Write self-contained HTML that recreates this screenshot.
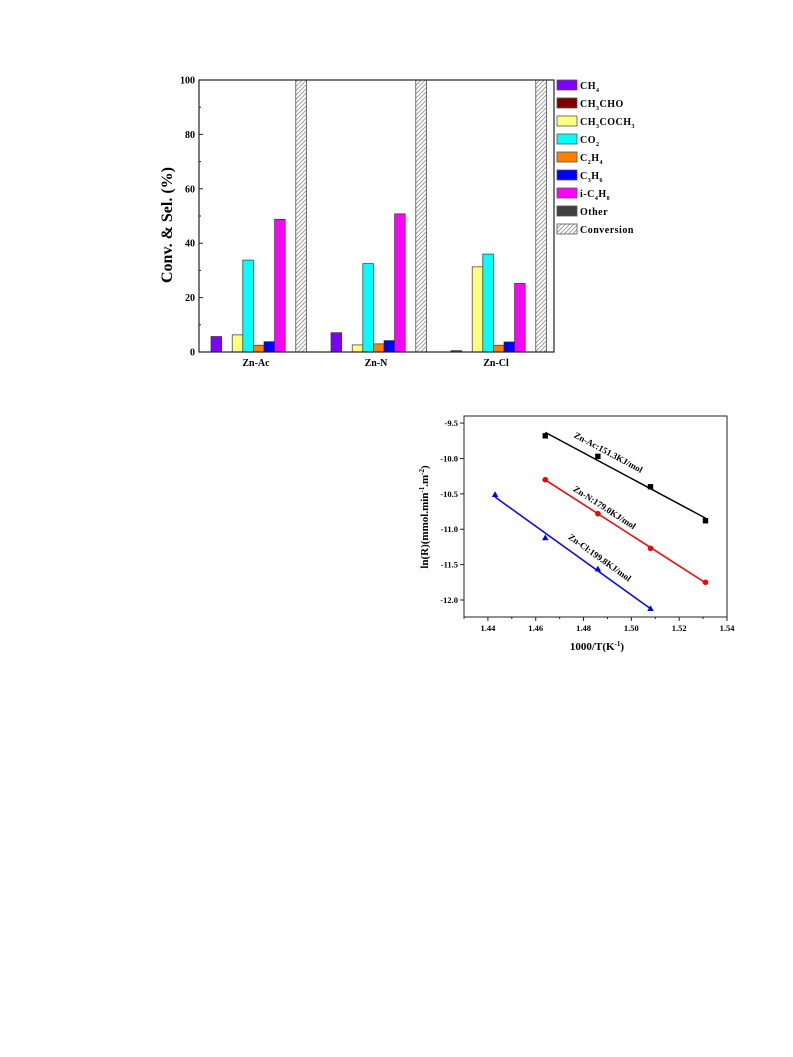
<!DOCTYPE html>
<html><head><meta charset="utf-8"><style>
body{margin:0;background:#fff;width:793px;height:1057px;overflow:hidden}
svg{position:absolute;left:0;top:0;font-family:"Liberation Serif",serif;font-weight:bold}
</style></head><body>
<svg width="793" height="1057">
<defs><pattern id="hatch" width="3" height="3" patternUnits="userSpaceOnUse" patternTransform="rotate(45)"><rect width="3" height="3" fill="#fff"/><line x1="0" y1="0" x2="0" y2="3" stroke="#777" stroke-width="1.4"/></pattern></defs>
<g id="bar"></g><g id="kin"></g>
</svg>
<script>
const NS="http://www.w3.org/2000/svg";
function mk(p,t,a,txt){const e=document.createElementNS(NS,t);for(const k in a)e.setAttribute(k,a[k]);if(txt!=null)e.textContent=txt;p.appendChild(e);return e;}
// ---- bar chart data
const categories=["Zn-Ac","Zn-N","Zn-Cl"];
const seriesNames=["CH4","CH3CHO","CH3COCH3","CO2","C2H4","C3H6","i-C4H8","Other","Conversion"];
const seriesColors=["#7f00ff","#800000","#ffff80","#00ffff","#ff8000","#0000ff","#ff00ff","#404040","url(#hatch)"];
const znAcValues=[5.7,0,6.3,33.8,2.5,3.8,48.8,0,100];
const znNValues=[7.1,0,2.6,32.5,3.0,4.2,50.8,0,100];
const znClValues=[0.5,0,31.3,36.0,2.5,3.7,25.2,0,100];
const barYTicks=[0,20,40,60,80,100];
const legendLabels=[["CH","4",""],["CH","3","CHO"],["CH","3","COCH","3"],["CO","2",""],["C","2","H","4"],["C","3","H","6"],["i-C","4","H","8"],["Other"],["Conversion"]];
const groups=[znAcValues,znNValues,znClValues];
const B=document.getElementById("bar");
const L=199,R=554,T=80,Bt=352;
const by=v=>Bt-(v/100)*(Bt-T);
const centers=[256,376,496];
groups.forEach((vals,g)=>{vals.forEach((v,i)=>{if(v<=0)return;const x=centers[g]-45+i*10.6;
const r=mk(B,"rect",{x:x,y:by(v),width:10.6,height:Bt-by(v),fill:seriesColors[i],stroke:"#333","stroke-width":0.7});

});});
const fr=mk(B,"rect",{x:L,y:T,width:R-L,height:Bt-T,fill:"none",stroke:"#222","stroke-width":1.2});


barYTicks.forEach(t=>{const y=by(t);mk(B,"line",{x1:L,x2:L+4,y1:y,y2:y,stroke:"#222"});
const tx=mk(B,"text",{x:L-4,y:y+3.5,"text-anchor":"end","font-size":10},t);


if(t<100)mk(B,"line",{x1:L,x2:L+2,y1:by(t+10),y2:by(t+10),stroke:"#222"});});
categories.forEach((c,g)=>{const tx=mk(B,"text",{x:centers[g],y:366,"text-anchor":"middle","font-size":10},c);

});
const yl=mk(B,"text",{x:0,y:0,transform:"translate(172,225) rotate(-90)","text-anchor":"middle","font-size":16},"Conv. &  Sel. (%)");


legendLabels.forEach((lab,i)=>{const y=80+i*18;const g=mk(B,"g",{});


mk(g,"rect",{x:557,y:y,width:20,height:10,fill:seriesColors[i],stroke:"#555","stroke-width":0.8});
const t=mk(g,"text",{x:580,y:y+9,"font-size":10,"letter-spacing":"0.5"});
lab.forEach((s,k)=>{const ts=mk(t,"tspan",k%2==1?{"font-size":6,dy:3}:(k>0?{dy:-3}:{}),s);});});
// ---- Arrhenius chart data
const acX=[1.464,1.486,1.508,1.531],acY=[-9.68,-9.97,-10.40,-10.88];
const nX=[1.464,1.486,1.508,1.531],nY=[-10.30,-10.78,-11.27,-11.75];
const clX=[1.443,1.464,1.486,1.508],clY=[-10.51,-11.12,-11.56,-12.12];
const xTicks=[1.44,1.46,1.48,1.50,1.52,1.54];
const yTicks=[-9.5,-10.0,-10.5,-11.0,-11.5,-12.0];
const seriesLabels=["Zn-Ac:151.3KJ/mol","Zn-N:179.0KJ/mol","Zn-Cl:199.8KJ/mol"];
const K=document.getElementById("kin");
const KL=464,KR=727,KT=416,KB=617;
const sx=v=>KL+(v-1.43)/(0.11)*(KR-KL);
const sy=v=>KB-(v+12.24)/(2.84)*(KB-KT);
const kf=mk(K,"rect",{x:KL,y:KT,width:KR-KL,height:KB-KT,fill:"none",stroke:"#222","stroke-width":1});


xTicks.forEach(t=>{const x=sx(t);mk(K,"line",{x1:x,x2:x,y1:KB,y2:KB+4,stroke:"#222"});mk(K,"line",{x1:x-23.9,x2:x-23.9,y1:KB,y2:KB+2,stroke:"#222"});
const tx=mk(K,"text",{x:x,y:KB+14,"text-anchor":"middle","font-size":8.5},t.toFixed(2));

});
yTicks.forEach(t=>{const y=sy(t);mk(K,"line",{x1:KL-4,x2:KL,y1:y,y2:y,stroke:"#222"});
const tx=mk(K,"text",{x:KL-6,y:y+3,"text-anchor":"end","font-size":8.5},t.toFixed(1));

});
const xl=mk(K,"text",{x:597,y:650,"text-anchor":"middle","font-size":11},"1000/T(K");
mk(xl,"tspan",{"font-size":7,dy:-4},"-1");mk(xl,"tspan",{dy:4},")");


const kyl=mk(K,"text",{transform:"translate(428,517) rotate(-90)","text-anchor":"middle","font-size":11},"ln(R)(mmol.min");
mk(kyl,"tspan",{"font-size":7,dy:-4},"-1");mk(kyl,"tspan",{dy:4},".m");mk(kyl,"tspan",{"font-size":7,dy:-4},"-2");mk(kyl,"tspan",{dy:4},")");


const sets=[[acX,acY,"#000","s",[607,455]],[nX,nY,"#f00","c",[603,510]],[clX,clY,"#00f","t",[598,560]]];
sets.forEach(([X,Y,col,m,lp],si)=>{const n=X.length;const mx=X.reduce((a,b)=>a+b)/n,my=Y.reduce((a,b)=>a+b)/n;
let sxy=0,sxx=0;X.forEach((x,i)=>{sxy+=(x-mx)*(Y[i]-my);sxx+=(x-mx)**2;});const b=sxy/sxx,a=my-b*mx;
const x0=X[0],x1=X[n-1];
const ln=mk(K,"line",{x1:sx(x0),y1:sy(a+b*x0),x2:sx(x1),y2:sy(a+b*x1),stroke:col,"stroke-width":1.5});


X.forEach((x,i)=>{const px=sx(x),py=sy(Y[i]);let e;
if(m=="s")e=mk(K,"rect",{x:px-2.7,y:py-2.7,width:5.4,height:5.4,fill:col});
else if(m=="c")e=mk(K,"circle",{cx:px,cy:py,r:2.8,fill:col});
else e=mk(K,"polygon",{points:`${px},${py-3.3} ${px-3.2},${py+2.5} ${px+3.2},${py+2.5}`,fill:col});

});
const ang=Math.atan2(sy(a+b*x1)-sy(a+b*x0),sx(x1)-sx(x0))*180/Math.PI;
const lt=mk(K,"text",{transform:`translate(${lp[0]},${lp[1]}) rotate(${ang})`,"text-anchor":"middle","font-size":9},seriesLabels[si]);

});
</script>
</body></html>
